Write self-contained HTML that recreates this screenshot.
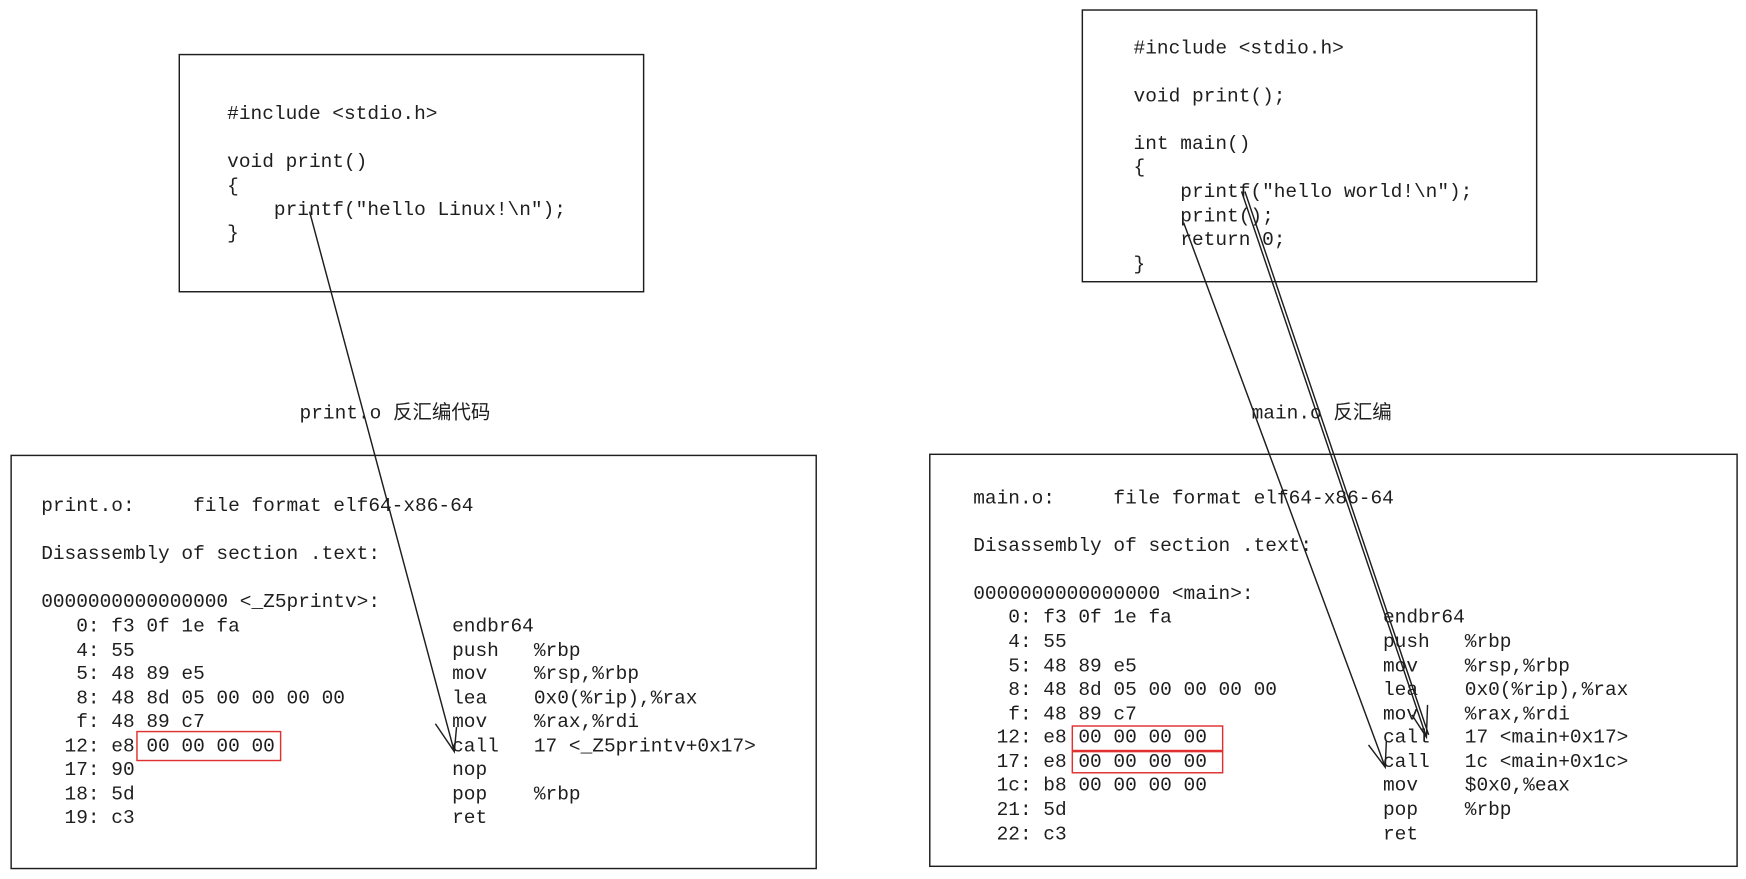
<!DOCTYPE html>
<html><head><meta charset="utf-8"><style>
html,body{margin:0;padding:0;background:#fff;}
svg{display:block;}
text{font-family:"Liberation Mono","Noto Sans CJK SC",monospace;font-size:17.5px;fill:#1e1e1e;white-space:pre;}
.cjk{font-family:"Liberation Mono","Noto Sans CJK SC",sans-serif;}
</style></head><body>
<svg width="1746" height="879" viewBox="0 0 1568 789.4" preserveAspectRatio="none" xmlns="http://www.w3.org/2000/svg">
<g fill="none" stroke="#1e1e1e" stroke-width="1.3">
<rect x="161" y="49" width="417" height="213"/>
<rect x="10" y="409" width="723" height="371"/>
<rect x="972" y="9" width="408" height="244"/>
<rect x="835" y="408" width="725" height="370"/>
<path d="M278 190 L408 675 M391 650 L408 675 L410 653"/>
<path d="M1063 200 L1244 689 M1229 669 L1244 689 L1245 666"/>
<path d="M1115 172 L1281 662 M1118 172 L1283 660 M1268 642 L1281 662 L1282 633"/>
</g>
<g fill="none" stroke="#e03131" stroke-width="1.3">
<rect x="123" y="657" width="129" height="26"/>
<rect x="963" y="652" width="135" height="22"/>
<rect x="963" y="675" width="135" height="19"/>
</g>
<g>
<text x="204" y="107">#include &lt;stdio.h&gt;</text>
<text x="204" y="150">void print()</text>
<text x="204" y="172">{</text>
<text x="204" y="193">    printf("hello Linux!\n");</text>
<text x="204" y="214">}</text>
<text class="cjk" x="269" y="376">print.o 反汇编代码</text>
<text x="37" y="459">print.o:     file format elf64-x86-64</text>
<text x="37" y="502">Disassembly of section .text:</text>
<text x="37" y="545">0000000000000000 &lt;_Z5printv&gt;:</text>
<text x="37" y="567">   0: f3 0f 1e fa</text><text x="406" y="567">endbr64</text>
<text x="37" y="589">   4: 55</text><text x="406" y="589">push   %rbp</text>
<text x="37" y="610">   5: 48 89 e5</text><text x="406" y="610">mov    %rsp,%rbp</text>
<text x="37" y="632">   8: 48 8d 05 00 00 00 00</text><text x="406" y="632">lea    0x0(%rip),%rax</text>
<text x="37" y="653">   f: 48 89 c7</text><text x="406" y="653">mov    %rax,%rdi</text>
<text x="37" y="675">  12: e8 00 00 00 00</text><text x="406" y="675">call   17 &lt;_Z5printv+0x17&gt;</text>
<text x="37" y="696">  17: 90</text><text x="406" y="696">nop</text>
<text x="37" y="718">  18: 5d</text><text x="406" y="718">pop    %rbp</text>
<text x="37" y="739">  19: c3</text><text x="406" y="739">ret</text>

<text x="1018" y="48">#include &lt;stdio.h&gt;</text>
<text x="1018" y="91">void print();</text>
<text x="1018" y="134">int main()</text>
<text x="1018" y="155">{</text>
<text x="1018" y="177">    printf("hello world!\n");</text>
<text x="1018" y="199">    print();</text>
<text x="1018" y="220">    return 0;</text>
<text x="1018" y="242">}</text>
<text class="cjk" x="1124" y="376">main.o 反汇编</text>
<text x="874" y="452">main.o:     file format elf64-x86-64</text>
<text x="874" y="495">Disassembly of section .text:</text>
<text x="874" y="538">0000000000000000 &lt;main&gt;:</text>
<text x="874" y="559">   0: f3 0f 1e fa</text><text x="1242" y="559">endbr64</text>
<text x="874" y="581">   4: 55</text><text x="1242" y="581">push   %rbp</text>
<text x="874" y="603">   5: 48 89 e5</text><text x="1242" y="603">mov    %rsp,%rbp</text>
<text x="874" y="624">   8: 48 8d 05 00 00 00 00</text><text x="1242" y="624">lea    0x0(%rip),%rax</text>
<text x="874" y="646">   f: 48 89 c7</text><text x="1242" y="646">mov    %rax,%rdi</text>
<text x="874" y="667">  12: e8 00 00 00 00</text><text x="1242" y="667">call   17 &lt;main+0x17&gt;</text>
<text x="874" y="689">  17: e8 00 00 00 00</text><text x="1242" y="689">call   1c &lt;main+0x1c&gt;</text>
<text x="874" y="710">  1c: b8 00 00 00 00</text><text x="1242" y="710">mov    $0x0,%eax</text>
<text x="874" y="732">  21: 5d</text><text x="1242" y="732">pop    %rbp</text>
<text x="874" y="754">  22: c3</text><text x="1242" y="754">ret</text>
</g>
</svg>
</body></html>
